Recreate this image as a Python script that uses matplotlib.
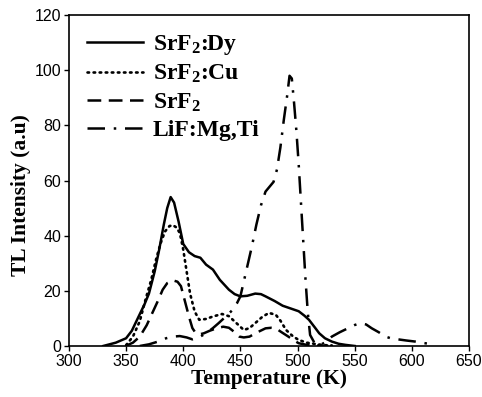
import numpy as np
import matplotlib.pyplot as plt

plt.rcParams['font.family'] = ['Liberation Sans', 'DejaVu Sans']
plt.rcParams['mathtext.fontset'] = 'custom'
plt.rcParams['mathtext.rm'] = 'Liberation Serif:bold'
plt.rcParams['mathtext.bf'] = 'Liberation Serif:bold'
plt.rcParams['mathtext.it'] = 'Liberation Serif:bold'

# SrF2:Dy (solid)
dy_t = [330, 341, 350, 355, 361, 366, 370, 375, 379, 383, 386, 389, 392, 396, 400, 405, 410, 415,
        420, 426, 432, 440, 445, 450, 456, 463, 468, 472, 480, 487, 494, 501, 506, 510, 515,
        519, 524, 530, 536, 542, 550]
dy_i = [0, 1.2, 2.8, 5.5, 10.7, 15, 19, 27, 35, 44, 50, 54, 52, 45, 37, 34, 32.6, 32,
        29.5, 27.7, 24, 20.4, 18.8, 18, 18.2, 19, 18.8, 18, 16.3, 14.6, 13.6, 12.6, 11, 9.5, 6.8,
        4.6, 2.8, 1.6, 0.8, 0.4, 0]

# SrF2:Cu (dotted)
cu_t = [350, 356, 362, 367, 372, 376, 380, 384, 388, 391, 394, 397, 400, 403, 406, 410, 414, 420,
        426, 434, 440, 446, 453, 458, 463, 469, 475, 481, 485, 490, 496, 501, 508, 516, 523, 530]
cu_i = [0.3, 3.4, 9, 16.8, 24, 31, 37, 41.5, 43.5, 43.8, 43, 41, 35, 27, 19, 12.5, 9.5, 9.8,
        10.7, 11.6, 10.8, 8.5, 5.8, 6.5, 8.3, 10.5, 12, 11.3, 9.2, 5.8, 3.5, 2.2, 1.2, 0.7, 0.3, 0.2]

# SrF2 (dashed)
sr_t = [350, 356, 362, 368, 373, 378, 382, 386, 391, 395, 398, 401, 405, 408, 411, 414, 418, 423,
        429, 435, 440, 445, 449, 453, 458, 465, 472, 477, 481, 486, 492, 497, 501, 507, 513, 520, 527]
sr_i = [0.1, 1.2, 3.4, 7.5, 12, 16.5, 20.4, 22.8, 23.8, 23.3, 21.7, 17, 10.7, 6.5, 4.6, 4.2, 4.6, 5.5,
        6.4, 7, 6.6, 5, 3.4, 3.1, 3.4, 5, 6.4, 6.6, 6.4, 5, 3.4, 2, 1, 0.5, 0.2, 0.1, 0]

# LiF:Mg,Ti (dash-dot)
lif_t = [362, 370, 378, 385, 391, 397, 403, 408, 414, 420, 426, 431, 437, 443, 447, 450, 455, 460,
         464, 468, 472, 476, 479, 482, 485, 488, 491, 493, 495, 497, 499, 501, 503, 505, 507, 509,
         511, 515, 520, 525, 530, 537, 545, 550, 555, 560, 565, 571, 577, 583, 588, 595, 603, 610, 618]
lif_i = [0, 0.6, 1.6, 2.8, 3.4, 3.6, 3.1, 2.4, 3.2, 4.6, 6.5, 8.3, 10.6, 13, 15.5, 18, 27, 36,
         44, 51, 56, 58, 59.5, 64, 72, 82, 91, 98, 97, 88, 78, 66, 52, 38, 24, 12,
         4, 1, 0.4, 1.5, 3.4, 5, 6.6, 7.6, 8.3, 7.8, 6.4, 5, 3.4, 2.6, 2.4, 2, 1.6, 1.1, 0.6]

fig = plt.figure(figsize=(4.82, 3.97), dpi=100)
ax = fig.add_axes([0.143, 0.1285, 0.83, 0.8335])

ax.plot(dy_t, dy_i, color='black', lw=1.8, ls='-', label='SrF$_2$:Dy')
ax.plot(cu_t, cu_i, color='black', lw=1.9, ls=(0, (0.6, 1.7)), dash_capstyle='round', label='SrF$_2$:Cu')
ax.plot(sr_t, sr_i, color='black', lw=1.8, ls=(0, (5.5, 3)), label='SrF$_2$')
ax.plot(lif_t, lif_i, color='black', lw=1.8, ls=(0, (7, 3.5, 1, 3.5)), label='LiF:Mg,Ti')

ax.set_xlim(300, 650)
ax.set_ylim(0, 120)
ax.set_xticks(np.arange(300, 651, 50))
ax.set_yticks(np.arange(0, 121, 20))
ax.tick_params(direction='out', length=3.5, width=1, labelsize=11.5, pad=2)
for s in ax.spines.values():
    s.set_linewidth(1.2)

ax.set_xlabel('Temperature (K)', fontfamily='Liberation Serif', fontweight='bold', fontsize=15.5, labelpad=0)
ax.set_ylabel('TL Intensity (a.u)', fontfamily='Liberation Serif', fontweight='bold', fontsize=15.5)
ax.yaxis.set_label_coords(-0.095, 0.455)

leg = ax.legend(loc='upper left', frameon=False, handlelength=2.4, handletextpad=0.4,
                labelspacing=0.26, borderaxespad=0.35,
                prop={'family': 'Liberation Serif', 'weight': 'bold', 'size': 17})

fig.savefig('out.png', dpi=100)
